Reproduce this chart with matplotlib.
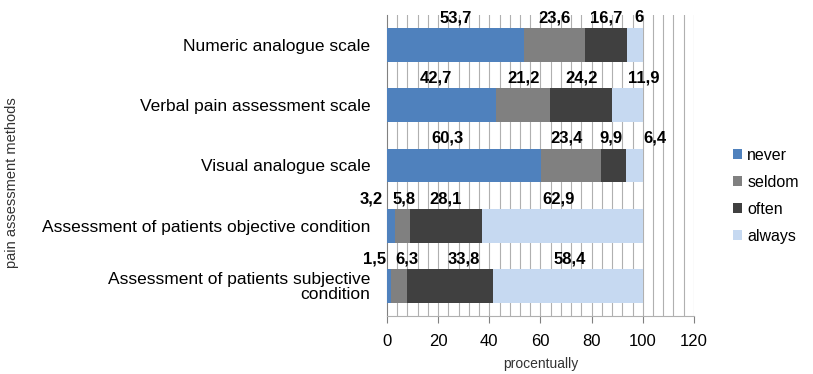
import matplotlib.pyplot as plt
import numpy as np

methods = ['Numeric analogue scale',
           'Verbal pain assessment scale',
           'Visual analogue scale',
           'Assessment of patients objective condition',
           'Assessment of patients subjective\ncondition']
series = ['never', 'seldom', 'often', 'always']
never = [53.7, 42.7, 60.3, 3.2, 1.5]
seldom = [23.6, 21.2, 23.4, 5.8, 6.3]
often = [16.7, 24.2, 9.9, 28.1, 33.8]
always = [6.0, 11.9, 6.4, 62.9, 58.4]

colors = ['#4F81BD', '#808080', '#404040', '#C6D9F1']
# sideways shift of crowded value labels, in points
nudge = [[0, 0, 0, 3],
         [-4, 0, 0, 12],
         [-12, -3, -2, 15],
         [-14, 1, 0, -3],
         [-10, 6, 10, 1]]

plt.rcParams['font.family'] = ['Liberation Sans', 'DejaVu Sans']

fig = plt.figure(figsize=(8.13, 3.74), dpi=100)
ax = fig.add_axes([0.476, 0.155, 0.3775, 0.805])

y = np.arange(len(methods))
left = np.zeros(len(methods))
for k, vals in enumerate([never, seldom, often, always]):
    vals = np.array(vals)
    ax.barh(y, vals, left=left, height=0.56, color=colors[k],
            label=series[k], zorder=3)
    for i, v in enumerate(vals):
        ax.annotate(f'{v:g}'.replace('.', ','), (left[i] + v / 2, y[i] - 0.45),
                    xytext=(nudge[i][k], 0), textcoords='offset points',
                    ha='center', va='center', fontsize=12,
                    fontweight='bold', color='black', zorder=4)
    left += vals

ax.set_xlim(0, 120)
ax.set_ylim(len(methods) - 0.5, -0.5)
ax.set_yticks(y)
ax.set_yticklabels(methods, fontsize=12.5, color='black', linespacing=0.95)
ax.set_xticks(np.arange(0, 121, 20))
ax.tick_params(axis='x', labelsize=12, length=5, color='#808080', pad=8)
ax.tick_params(axis='y', length=0, pad=12)
for xv in np.arange(4, 121, 4):
    ax.axvline(xv, color='#B0B0B0', lw=0.8, zorder=1)

for s in ['top', 'right']:
    ax.spines[s].set_visible(False)
ax.spines['left'].set_color('#808080')
ax.spines['bottom'].set_color('#B0B0B0')

ax.set_xlabel('procentually', fontsize=10, color='#333333', labelpad=6)
fig.text(0.015, 0.513, 'pain assessment methods', rotation=90, fontsize=10.5,
         color='#333333', ha='center', va='center')

ax.legend(loc='center left', bbox_to_anchor=(1.08, 0.40), frameon=False,
          fontsize=11.5, handlelength=0.6, handleheight=0.6,
          handletextpad=0.3, labelspacing=0.75)

fig.savefig('out.png', dpi=100)
